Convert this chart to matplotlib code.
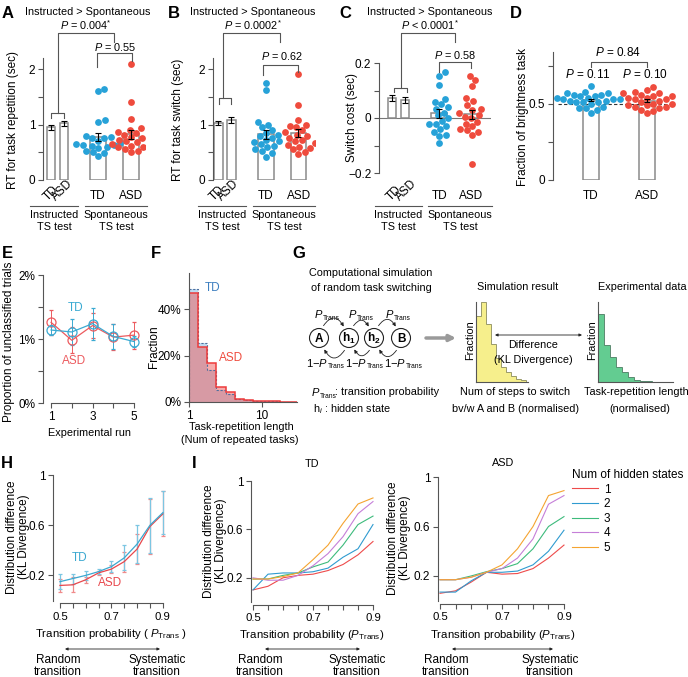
import numpy as np
import matplotlib
matplotlib.use("Agg")
import matplotlib.pyplot as plt
from matplotlib.patches import Circle, FancyArrowPatch

plt.rcParams['font.family'] = ['Liberation Sans', 'DejaVu Sans']
plt.rcParams['font.size'] = 7.8
plt.rcParams['mathtext.fontset'] = 'custom'
plt.rcParams['mathtext.rm'] = 'Liberation Sans'
plt.rcParams['mathtext.it'] = 'Liberation Sans:italic'
plt.rcParams['mathtext.bf'] = 'Liberation Sans:bold'

W, H = 688, 677
TD_C = '#27a2d8'
ASD_C = '#ef4b3d'
TD_L = '#3aaad2'
ASD_L = '#ec5a5e'
GRAY = '#555555'
BAR_EDGE = '#8a8a8a'

# ---------------- data ----------------
groups = ['TD', 'ASD']

# A: RT for task repetition (sec)
rep_inst_mean = [0.95, 1.02]
rep_inst_sem = [0.04, 0.05]
rep_td = [1.65, 1.60, 1.08, 1.05, 0.80, 0.78, 0.76, 0.75, 0.70, 0.66,
          0.65, 0.64, 0.63, 0.62, 0.60, 0.58, 0.53, 0.50, 0.49, 0.43]
rep_asd = [2.10, 1.40, 1.10, 0.93, 0.90, 0.86, 0.85, 0.82, 0.78, 0.75, 0.72,
           0.70, 0.68, 0.65, 0.63, 0.62, 0.60, 0.60, 0.56, 0.52, 0.50]

# B: RT for task switch (sec)
sw_inst_mean = [1.03, 1.08]
sw_inst_sem = [0.04, 0.06]
sw_td = [1.75, 1.62, 1.05, 1.00, 0.95, 0.90, 0.85, 0.82, 0.80, 0.76, 0.73,
         0.70, 0.68, 0.65, 0.62, 0.60, 0.56, 0.52, 0.48, 0.42]
sw_asd = [1.92, 1.35, 1.08, 1.00, 0.98, 0.95, 0.90, 0.86, 0.82, 0.80, 0.76,
          0.73, 0.70, 0.66, 0.63, 0.60, 0.58, 0.55, 0.50, 0.47]

# C: switch cost (sec)
cost_inst_mean = [0.072, 0.065]
cost_inst_sem = [0.010, 0.010]
cost_td = [0.167, 0.152, 0.120, 0.070, 0.060, 0.050, 0.040, 0.033, 0.020, 0.010,
           0.000, -0.010, -0.020, -0.020, -0.030, -0.040, -0.050, -0.060, -0.065, -0.090]
cost_asd = [0.152, 0.137, 0.116, 0.072, 0.063, 0.048, 0.033, 0.030, 0.020, 0.010,
            0.005, 0.000, -0.013, -0.020, -0.030, -0.040, -0.045, -0.050, -0.062, -0.168]

# D: fraction of brightness task
bright_td = [0.62, 0.58, 0.57, 0.57, 0.56, 0.56, 0.55, 0.55, 0.54, 0.54, 0.53, 0.53,
             0.53, 0.52, 0.52, 0.51, 0.51, 0.51, 0.50, 0.48, 0.47, 0.47, 0.46, 0.44]
bright_asd = [0.61, 0.59, 0.58, 0.57, 0.57, 0.56, 0.55, 0.55, 0.54, 0.54, 0.53, 0.53,
              0.52, 0.51, 0.50, 0.50, 0.49, 0.49, 0.48, 0.48, 0.47, 0.46, 0.45, 0.44]

# E: proportion of unclassified trials (%)
runs = [1, 2, 3, 4, 5]
uncl_td = [1.14, 1.11, 1.24, 1.04, 0.96]
uncl_td_err = [0.08, 0.20, 0.25, 0.20, 0.09]
uncl_asd = [1.26, 0.98, 1.21, 1.03, 1.06]
uncl_asd_err = [0.20, 0.20, 0.20, 0.20, 0.21]

# F: task-repetition length histogram (fraction), log-spaced bins
rep_len_edges = [1.0, 1.334, 1.778, 2.371, 3.162, 4.217, 5.623, 7.499,
                 10.0, 13.34, 17.78, 23.71, 31.62]
rep_len_td = [0.485, 0.252, 0.138, 0.052, 0.033, 0.012, 0.008, 0.006, 0.004, 0.003, 0.002, 0.002]
rep_len_asd = [0.467, 0.235, 0.166, 0.066, 0.042, 0.012, 0.008, 0.006, 0.004, 0.003, 0.002, 0.002]

# G: schematic histograms
sim_frac = [0.83, 1.00, 0.72, 0.47, 0.30, 0.19, 0.12, 0.07, 0.04, 0.02]
exp_frac = [0.85, 0.46, 0.31, 0.19, 0.125, 0.06, 0.03, 0.015, 0.008, 0.004, 0.002]
states = ['A', r'$\mathbf{h_1}$', r'$\mathbf{h_2}$', 'B']

# H: KL divergence vs transition probability
p_trans = [0.50, 0.55, 0.60, 0.65, 0.70, 0.75, 0.80, 0.85, 0.90]
kl_td = [0.15, 0.175, 0.20, 0.23, 0.27, 0.34, 0.45, 0.60, 0.70]
kl_td_err = [0.06, 0.04, 0.035, 0.02, 0.045, 0.10, 0.15, 0.22, 0.17]
kl_asd = [0.12, 0.125, 0.165, 0.22, 0.25, 0.31, 0.41, 0.59, 0.69]
kl_asd_err = [0.05, 0.06, 0.025, 0.015, 0.03, 0.08, 0.12, 0.22, 0.18]

# I: KL divergence per number of hidden states
hidden_states = ['1', '2', '3', '4', '5']
hidden_colors = ['#ee4b4b', '#2f9bd0', '#3dbb7c', '#c57fd8', '#f5a431']
kl_td_hidden = [
    [0.10, 0.13, 0.20, 0.22, 0.23, 0.26, 0.31, 0.39, 0.50],
    [0.10, 0.23, 0.24, 0.24, 0.25, 0.28, 0.37, 0.44, 0.64],
    [0.19, 0.19, 0.22, 0.24, 0.29, 0.33, 0.47, 0.64, 0.71],
    [0.20, 0.18, 0.18, 0.22, 0.30, 0.40, 0.54, 0.73, 0.83],
    [0.19, 0.19, 0.21, 0.24, 0.35, 0.47, 0.65, 0.81, 0.86],
]
kl_asd_hidden = [
    [0.06, 0.08, 0.15, 0.23, 0.215, 0.22, 0.26, 0.345, 0.45],
    [0.07, 0.07, 0.16, 0.23, 0.23, 0.24, 0.29, 0.40, 0.57],
    [0.17, 0.17, 0.20, 0.235, 0.26, 0.30, 0.42, 0.60, 0.68],
    [0.17, 0.17, 0.19, 0.23, 0.26, 0.345, 0.50, 0.78, 0.85],
    [0.17, 0.17, 0.19, 0.23, 0.29, 0.42, 0.60, 0.85, 0.89],
]

# ---------------- helpers ----------------
fig = plt.figure(figsize=(W / 100, H / 100), dpi=100)


def add_px(left, top, right, bottom):
    return fig.add_axes([left / W, 1 - bottom / H, (right - left) / W, (bottom - top) / H])


def px_scale(ax):
    bb = ax.get_position()
    x0, x1 = ax.get_xlim()
    y0, y1 = ax.get_ylim()
    return bb.width * W / (x1 - x0), bb.height * H / (y1 - y0)


def swarm_x(values, center, ax, d=6.6):
    # simple beeswarm: place each point at the nearest free horizontal offset
    sx, sy = px_scale(ax)
    vals = np.asarray(values, float)
    placed = []
    xs = np.empty(len(vals))
    for i in np.argsort(vals):
        ypx = vals[i] * sy
        found = None
        for s in np.arange(0, 300) * 0.5:
            for off in ((s, -s) if s else (0.0,)):
                if all((off - px) ** 2 + (ypx - py) ** 2 >= d * d for px, py in placed):
                    found = off
                    break
            if found is not None:
                break
        placed.append((found, ypx))
        xs[i] = center + found / sx
    return xs


def style(ax, bottom=False):
    for s in ['top', 'right']:
        ax.spines[s].set_visible(False)
    ax.spines['bottom'].set_visible(bottom)
    for s in ['left', 'bottom']:
        ax.spines[s].set_color(GRAY)
        ax.spines[s].set_linewidth(0.8)
    ax.tick_params(length=3.5, width=0.8, color=GRAY, labelsize=8.5, pad=2)
    ax.patch.set_alpha(0)


def sem(v):
    v = np.asarray(v)
    return v.std(ddof=1) / np.sqrt(len(v))


inst_x = [0.31, 0.82]
spon_x = [2.17, 3.45]
DOT = 24


def bar_swarm(ax, inst_mean, inst_sem, td, asd):
    ax.bar(inst_x, inst_mean, width=0.33, facecolor='white', edgecolor=BAR_EDGE, lw=1.1, zorder=1)
    ax.errorbar(inst_x, inst_mean, yerr=inst_sem, fmt='none', ecolor='k',
                elinewidth=0.8, capsize=2, capthick=0.8, zorder=5)
    for xc, vals, col in zip(spon_x, [td, asd], [TD_C, ASD_C]):
        ax.bar(xc, np.mean(vals), width=0.62, facecolor='none', edgecolor=BAR_EDGE, lw=1.1, zorder=1)
        ax.scatter(swarm_x(vals, xc, ax), vals, s=DOT, color=col, lw=0, zorder=3)
        ax.errorbar(xc, np.mean(vals), yerr=sem(vals), fmt='none', ecolor='k',
                    elinewidth=0.8, capsize=2.5, capthick=0.8, zorder=5)
    ax.set_xticks([])


# ---------------- A ----------------
axA = add_px(43, 58, 145, 180)
axA.set_xlim(0, 4)
axA.set_ylim(0, 2.2)
style(axA)
axA.set_yticks([0, 0.5, 1, 1.5, 2], ['0', '', '1', '', '2'])
bar_swarm(axA, rep_inst_mean, rep_inst_sem, rep_td, rep_asd)

# ---------------- B ----------------
axB = add_px(213, 58, 315, 180)
axB.set_xlim(0.1, 4.1)
axB.set_ylim(0, 2.2)
style(axB)
axB.set_yticks([0, 0.5, 1, 1.5, 2], ['0', '', '1', '', '2'])
bar_swarm(axB, sw_inst_mean, sw_inst_sem, sw_td, sw_asd)

# ---------------- C ----------------
axC = add_px(379, 63, 491, 173)
axC.set_xlim(-0.2, 4.2)
axC.set_ylim(-0.2, 0.2)
style(axC)
axC.axhline(0, color='#777777', lw=0.8, zorder=0)
axC.set_yticks([-0.2, -0.1, 0, 0.1, 0.2], ['\u22120.2', '', '0', '', '0.2'])
bar_swarm(axC, cost_inst_mean, cost_inst_sem, cost_td, cost_asd)

# ---------------- D ----------------
axD = add_px(553, 52, 680, 180)
axD.set_xlim(0.32, 2.59)
axD.set_ylim(0, 0.84)
style(axD)
axD.set_yticks([0, 0.25, 0.5, 0.75], ['0', '', '0.5', ''])
axD.axhline(0.5, xmin=0.04, xmax=0.94, color='#333333', lw=0.8, ls=(0, (3, 2)), zorder=2)
for xc, vals, col in zip([1, 2], [bright_td, bright_asd], [TD_C, ASD_C]):
    axD.bar(xc, np.mean(vals), width=0.29, facecolor='none', edgecolor=BAR_EDGE, lw=1.1, zorder=1)
    axD.scatter(swarm_x(vals, xc, axD), vals, s=DOT, color=col, lw=0, zorder=3)
    axD.errorbar(xc, np.mean(vals), yerr=sem(vals), fmt='none', ecolor='k',
                 elinewidth=0.8, capsize=2.5, capthick=0.8, zorder=5)
axD.set_xticks([1, 2], groups)
axD.tick_params(axis='x', length=0, pad=7)

# ---------------- E ----------------
axE = add_px(43, 275, 140, 403)
axE.set_xlim(0.61, 5.29)
axE.set_ylim(0, 2)
style(axE, bottom=True)
axE.spines['bottom'].set_bounds(1, 5)
axE.set_yticks([0, 0.5, 1, 1.5, 2], ['0%', '', '1%', '', '2%'])
axE.set_xticks([1, 2, 3, 4, 5], ['1', '', '3', '', '5'])
for vals, err, col in [(uncl_asd, uncl_asd_err, ASD_L), (uncl_td, uncl_td_err, TD_L)]:
    axE.errorbar(runs, vals, yerr=err, color=col, lw=0.9, elinewidth=0.7, capsize=1.5,
                 capthick=0.7, marker='o', ms=6.5, mfc='none', mec=col, mew=0.9)
axE.text(2.2, 1.48, 'TD', color=TD_L, fontsize=8.5, ha='center', va='center')
axE.text(2.1, 0.65, 'ASD', color=ASD_L, fontsize=8.5, ha='center', va='center')

# ---------------- F ----------------
axF = add_px(189, 273, 297, 402)
axF.set_xscale('log')
axF.set_xlim(1, 30)
axF.set_ylim(0, 0.555)
style(axF, bottom=True)
axF.stairs(rep_len_td, rep_len_edges, baseline=0, fill=True, color='#7fb8e3', alpha=0.5, lw=0)
axF.stairs(rep_len_asd, rep_len_edges, baseline=0, fill=True, color='#f05a5a', alpha=0.5, lw=0)
axF.stairs(rep_len_td, rep_len_edges, baseline=0, color='#4f6f9f', lw=0.8, ls=(0, (2, 1.5)))
axF.stairs(rep_len_asd, rep_len_edges, baseline=0, color='#ee3b3b', lw=1.1)
axF.set_yticks([0, 0.2, 0.4], ['0%', '20%', '40%'])
axF.set_xticks([1, 10], ['1', '10'])
axF.xaxis.set_minor_locator(matplotlib.ticker.NullLocator())
axF.text(1.62, 0.49, 'TD', color='#3d7fc0', fontsize=8.5, ha='left', va='center')
axF.text(2.55, 0.19, 'ASD', color=ASD_C, fontsize=8.5, ha='left', va='center')

# ---------------- G histograms ----------------
axG1 = add_px(476, 302, 528, 382)
axG1.stairs(sim_frac, np.arange(len(sim_frac) + 1), baseline=0, fill=True, color='#f6ef8c')
axG1.stairs(sim_frac, np.arange(len(sim_frac) + 1), baseline=0, color='#9a9a6a', lw=0.7)
axG1.set_xlim(0, 10.4)
axG1.set_ylim(0, 1.0)
axG2 = add_px(598, 302, 673, 382)
axG2.stairs(exp_frac, np.arange(len(exp_frac) + 1), baseline=0, fill=True, color='#63cc91')
axG2.stairs(exp_frac, np.arange(len(exp_frac) + 1), baseline=0, color='#5a8a70', lw=0.7)
axG2.set_xlim(0, 12.5)
axG2.set_ylim(0, 1.0)
for a in (axG1, axG2):
    style(a, bottom=True)
    a.set_xticks([])
    a.set_yticks([])


# ---------------- H ----------------
def kl_axes(ax):
    style(ax, bottom=True)
    ax.set_ylim(0, 1)
    ax.spines['bottom'].set_bounds(0.5, 0.9)
    ax.spines['bottom'].set_position(('outward', 2))
    ax.set_yticks([0.2, 0.6, 1.0], ['0.2', '0.6', '1'])
    ax.set_xticks(p_trans, ['0.5', '', '', '', '0.7', '', '', '', '0.9'])
    ax.tick_params(axis='x', pad=2.5, labelsize=8.2)


axH = add_px(53, 475, 168, 600.5)
axH.set_xlim(0.473, 0.92)
kl_axes(axH)
axH.errorbar(p_trans, kl_asd, yerr=kl_asd_err, color='#e8474c', lw=0.9, elinewidth=0.9,
             ecolor='#f08a8a', capsize=1.5, capthick=0.9)
axH.errorbar(p_trans, kl_td, yerr=kl_td_err, color='#3ba8d0', lw=0.9, elinewidth=0.9,
             ecolor='#7cc6e2', capsize=1.5, capthick=0.9)
axH.text(0.578, 0.335, 'TD', color='#3ba8d0', fontsize=8.5, ha='center', va='center')
axH.text(0.695, 0.137, 'ASD', color='#e8474c', fontsize=8.5, ha='center', va='center')

# ---------------- I ----------------
axI1 = add_px(251, 481, 376, 602)
axI1.set_xlim(0.4933, 0.91)
kl_axes(axI1)
axI2 = add_px(438, 477, 567, 600.75)
axI2.set_xlim(0.4935, 0.9097)
kl_axes(axI2)
for k in range(len(hidden_states)):
    axI1.plot(p_trans, kl_td_hidden[k], color=hidden_colors[k], lw=0.8)
    axI2.plot(p_trans, kl_asd_hidden[k], color=hidden_colors[k], lw=0.8, label=hidden_states[k])
fig.legend(*axI2.get_legend_handles_labels(), loc='upper left',
           bbox_to_anchor=(572 / W, 1 - 469 / H), frameon=False, fontsize=8.5,
           title='Num of hidden states', title_fontsize=8.5, alignment='left',
           handlelength=2.2, handletextpad=0.5, labelspacing=0.22, borderpad=0,
           borderaxespad=0)

# ---------------- overlay: text, brackets, schematic ----------------
ov = fig.add_axes([0, 0, 1, 1])
ov.set_xlim(0, W)
ov.set_ylim(H, 0)
ov.set_axis_off()


def txt(x, y, s, ha='center', va='center', **kw):
    ov.text(x, y, s, ha=ha, va=va, **kw)


def bracket(x1, x2, y, y1, y2):
    ov.plot([x1, x1, x2, x2], [y1, y, y, y2], color=GRAY, lw=0.8)


def harrow(x1, x2, y):
    ov.annotate('', xy=(x2, y), xytext=(x1, y),
                arrowprops=dict(arrowstyle='<|-|>', lw=0.6, color='#222222',
                                mutation_scale=4, shrinkA=0, shrinkB=0))


def ptrans(x, y, prefix=''):
    # "P" with a tiny "Trans" subscript, split at x
    txt(x, y, prefix + r'$P$', ha='right', fontsize=8)
    txt(x, y + 4, 'Trans', ha='left', fontsize=4.8)


for letter, x, y in [('A', 2, 13), ('B', 168, 13), ('C', 339, 13), ('D', 510, 13),
                     ('E', 2, 253), ('F', 151, 253), ('G', 292, 253),
                     ('H', 1, 463), ('I', 192, 463)]:
    txt(x, y, letter, ha='left', fontsize=12, fontweight='bold')

# A-C annotations
txt(88, 12, 'Instructed > Spontaneous')
txt(86, 25, r'$P$ = 0.004$^{*}$')
bracket(58, 114, 33, 113, 42)
bracket(51, 64, 113, 118, 118)
txt(115, 47, r'$P$ = 0.55')
bracket(97, 132, 53, 67, 61)

txt(253, 12, 'Instructed > Spontaneous')
txt(253, 25, r'$P$ = 0.0002$^{*}$')
bracket(223, 280, 33, 98, 42)
bracket(219, 231, 98, 104, 104)
txt(282, 56, r'$P$ = 0.62')
bracket(263, 298, 65, 75, 72)

txt(430, 12, 'Instructed > Spontaneous')
txt(430, 25, r'$P$ < 0.0001$^{*}$')
bracket(401, 455, 33, 88, 42)
bracket(394, 407, 88, 92, 92)
txt(455, 55, r'$P$ = 0.58')
bracket(439, 471, 62, 72, 68)

txt(618, 52, r'$P$ = 0.84', fontsize=8.5)
bracket(591, 647, 62, 67, 67)
txt(588, 75, r'$P$ = 0.11', fontsize=8.5)
txt(645, 75, r'$P$ = 0.10', fontsize=8.5)

for (tdx, asdx, stdx, sasdx, l1, l2, c1, c2) in [
        (51, 62, 98, 131, (30, 78), (85, 147), 54, 116),
        (217, 228, 266, 299, (198, 246), (253, 315), 222, 284),
        (394, 406, 440, 471, (375, 422), (428, 492), 398, 460)]:
    txt(tdx, 193, 'TD', rotation=45, fontsize=8.5)
    txt(asdx, 190, 'ASD', rotation=45, fontsize=8.5)
    txt(stdx, 196, 'TD', fontsize=8.5)
    txt(sasdx, 196, 'ASD', fontsize=8.5)
    ov.plot(l1, [206, 206], color=GRAY, lw=0.8)
    ov.plot(l2, [206, 206], color=GRAY, lw=0.8)
    txt(c1, 215, 'Instructed')
    txt(c1, 227, 'TS test')
    txt(c2, 215, 'Spontaneous')
    txt(c2, 227, 'TS test')

# y labels
txt(13, 120, 'RT for task repetition (sec)', rotation=90, fontsize=8.5)
txt(178, 120, 'RT for task switch (sec)', rotation=90, fontsize=8.5)
txt(352, 118, 'Switch cost (sec)', rotation=90, fontsize=8.5)
txt(523, 117, 'Fraction of brightness task', rotation=90, fontsize=8.5)
txt(9, 342, 'Proportion of unclassified trials', rotation=90, fontsize=8.5)
txt(154, 347, 'Fraction', rotation=90, fontsize=8.5)
txt(470, 340, 'Fraction', rotation=90)
txt(592, 340, 'Fraction', rotation=90)
for x, y in [(18, 537), (215, 541), (399, 538)]:
    txt(x, y, 'Distribution difference\n(KL Divergence)', rotation=90, linespacing=1.1, fontsize=8.5)

# x labels
txt(89, 433, 'Experimental run')
txt(241, 427, 'Task-repetition length')
txt(240, 440, '(Num of repeated tasks)')
txt(111, 634, r'Transition probability ( $P_{\rm Trans}$ )', fontsize=8.2)
txt(312, 635, r'Transition probability ($P_{\rm Trans}$)', fontsize=8.2)
txt(503, 635, r'Transition probability ($P_{\rm Trans}$)', fontsize=8.2)
for x1, x2, rc, sc in [(65, 160, 58, 157), (265, 360, 260, 357), (452, 553, 446, 550)]:
    harrow(x1, x2, 649)
    txt(rc, 660, 'Random', fontsize=8.5)
    txt(rc, 672, 'transition', fontsize=8.5)
    txt(sc, 660, 'Systematic', fontsize=8.5)
    txt(sc, 672, 'transition', fontsize=8.5)
txt(312, 464, 'TD')
txt(503, 463, 'ASD')

# G schematic
txt(371, 273, 'Computational simulation')
txt(371, 288, 'of random task switching')
txt(518, 287, 'Simulation result')
txt(687, 287, 'Experimental data', ha='right')
circ_x = [319, 349, 374, 401]
for cx, lab in zip(circ_x, states):
    ov.add_patch(Circle((cx, 338), 9.5, facecolor='white', edgecolor='#222222', lw=0.8))
    txt(cx, 338.5, lab, fontsize=8.5, fontweight='bold')
for i in range(3):
    a, b = circ_x[i], circ_x[i + 1]
    ov.add_patch(FancyArrowPatch((a + 3, 328), (b - 4, 329), connectionstyle='arc3,rad=-0.9',
                                 arrowstyle='-|>', mutation_scale=5, lw=0.6, color='#222222'))
    ov.add_patch(FancyArrowPatch((b - 3, 348), (a + 4, 347), connectionstyle='arc3,rad=-0.9',
                                 arrowstyle='-|>', mutation_scale=5, lw=0.6, color='#222222'))
for x in [323, 357, 394]:
    ptrans(x, 314)
for x in [328, 367, 406]:
    ptrans(x, 363, prefix='1\u2212')
ov.annotate('', xy=(456, 338), xytext=(426, 338),
            arrowprops=dict(arrowstyle='-|>', lw=2.5, color='#9a9a9a', mutation_scale=9,
                            shrinkA=0, shrinkB=0))
harrow(495, 582, 335)
txt(533, 345, 'Difference')
txt(533, 360, '(KL Divergence)')
ptrans(320, 392)
txt(335, 392, ': transition probability', ha='left')
txt(313, 409, r'h$_i$ : hidden state', ha='left')
txt(515, 392, 'Num of steps to switch')
txt(515, 409, 'bv/w A and B (normalised)')
txt(636, 392, 'Task-repetition length')
txt(640, 409, '(normalised)')

fig.savefig('out.png', dpi=100)
